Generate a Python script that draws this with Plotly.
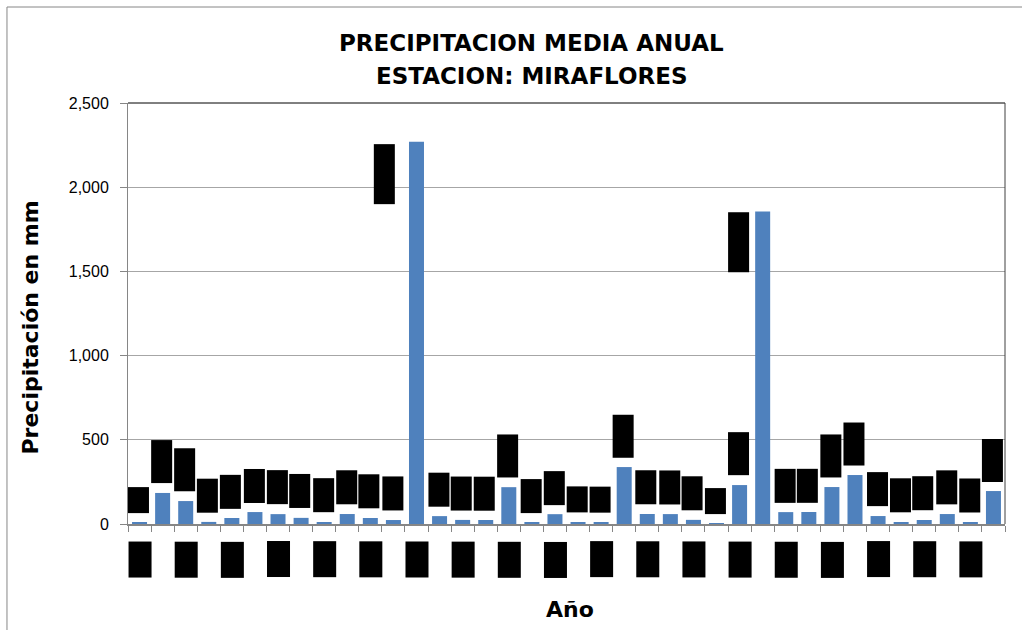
import plotly.graph_objects as go

# Annual mean precipitation, Miraflores station (mm)
years = [str(y) for y in range(1971, 2009)]
precip_mm = [
    8.5, 184.3, 136.2, 12.4, 35.7, 70.9, 58.6, 36.4, 11.8, 59.2,
    35.8, 23.6, 2270.4, 46.8, 24.3, 23.9, 218.7, 10.6, 58.4, 9.8,
    8.7, 338.1, 59.5, 58.8, 24.6, 2.5, 231.2, 1855.3, 70.6, 71.3,
    219.4, 290.8, 47.2, 10.9, 23.8, 59.1, 11.2, 195.7,
]
y_ticks = [0, 500, 1000, 1500, 2000, 2500]

BAR_BLUE = "#4F81BD"
GRID = "#A6A6A6"
AXIS = "#868686"
LABEL_FONT = dict(family="Liberation Sans, Arial", size=12, color="black")
TITLE_FONT = dict(family="DejaVu Sans", size=23, color="black", weight="bold")
AXIS_TITLE_FONT = dict(family="DejaVu Sans", size=22, color="black", weight="bold")


def label_box_length(text):
    """Length of a vertical value-label box, grown with the character count."""
    return 8.6 * len(text) - 7


fig = go.Figure(
    go.Bar(
        x=years,
        y=precip_mm,
        marker=dict(color=BAR_BLUE, line=dict(width=0)),
        hovertemplate="%{x}: %{y:,.1f} mm<extra></extra>",
    )
)

annotations = []

# value labels: vertical, in solid black boxes above each bar
# (category axis positions are given by index)
shifted_labels = {"1983": (-32, -2), "1998": (-24, 0)}
for i, (yr, v) in enumerate(zip(years, precip_mm)):
    if yr in shifted_labels:
        dx, dy = shifted_labels[yr]
        anchor = "top"
    else:
        dx, dy = -1, 9
        anchor = "bottom"
    txt = f"{v:,.1f}"
    annotations.append(dict(
        x=i, y=v, xref="x", yref="y",
        text=txt, textangle=-90, showarrow=False,
        width=label_box_length(txt),
        xanchor="center", yanchor=anchor, xshift=dx, yshift=dy,
        font=LABEL_FONT, bgcolor="black", borderpad=3,
    ))

# year labels under the axis, every second category
for i in range(0, len(years), 2):
    annotations.append(dict(
        x=i, y=0, xref="x", yref="y",
        text=years[i], textangle=-90, showarrow=False,
        xanchor="center", yanchor="top", yshift=-17,
        font=LABEL_FONT, bgcolor="black", borderpad=4,
    ))

# chart titles
annotations += [
    dict(x=0.46, y=1.1425, xref="paper", yref="paper", showarrow=False,
         text="PRECIPITACION MEDIA ANUAL", font=TITLE_FONT,
         xanchor="center", yanchor="middle"),
    dict(x=0.46, y=1.0653, xref="paper", yref="paper", showarrow=False,
         text="ESTACION: MIRAFLORES", font=TITLE_FONT,
         xanchor="center", yanchor="middle"),
    dict(x=0.504, y=-0.202, xref="paper", yref="paper", showarrow=False,
         text="Año", font=AXIS_TITLE_FONT,
         xanchor="center", yanchor="middle"),
    dict(x=-0.1106, y=0.4667, xref="paper", yref="paper", showarrow=False,
         text="Precipitación en mm", textangle=-90, font=AXIS_TITLE_FONT,
         xanchor="center", yanchor="middle"),
]

shapes = [
    # outer chart frame
    dict(type="rect", xref="paper", yref="paper",
         x0=-0.138, x1=1.03, y0=-0.28, y1=1.228,
         line=dict(color=AXIS, width=1), layer="below"),
    # plot-area frame (top and right edges)
    dict(type="line", xref="paper", yref="paper", x0=0, x1=1, y0=1, y1=1,
         line=dict(color="black", width=1)),
    dict(type="line", xref="paper", yref="paper", x0=1, x1=1, y0=0, y1=1,
         line=dict(color="#404040", width=1)),
]

fig.update_layout(
    width=1022, height=630,
    margin=dict(l=128, r=17, t=103, b=106),
    paper_bgcolor="white", plot_bgcolor="white",
    bargap=0.35,
    showlegend=False,
    annotations=annotations,
    shapes=shapes,
    xaxis=dict(
        type="category", range=[-0.5, len(years) - 0.5], tickson="boundaries",
        ticks="outside", ticklen=6, tickcolor=AXIS,
        showticklabels=False, showgrid=False,
        showline=True, linecolor=AXIS, linewidth=1.5,
    ),
    yaxis=dict(
        range=[0, 2500], tickvals=y_ticks, tickformat=",",
        ticks="outside", ticklen=7, tickcolor=AXIS,
        tickfont=dict(family="Liberation Sans, Arial", size=16, color="black"),
        showgrid=True, gridcolor=GRID, gridwidth=1,
        showline=True, linecolor=AXIS, linewidth=1,
        zeroline=False, ticklabelstandoff=8,
    ),
)

fig.write_html("out.html")
